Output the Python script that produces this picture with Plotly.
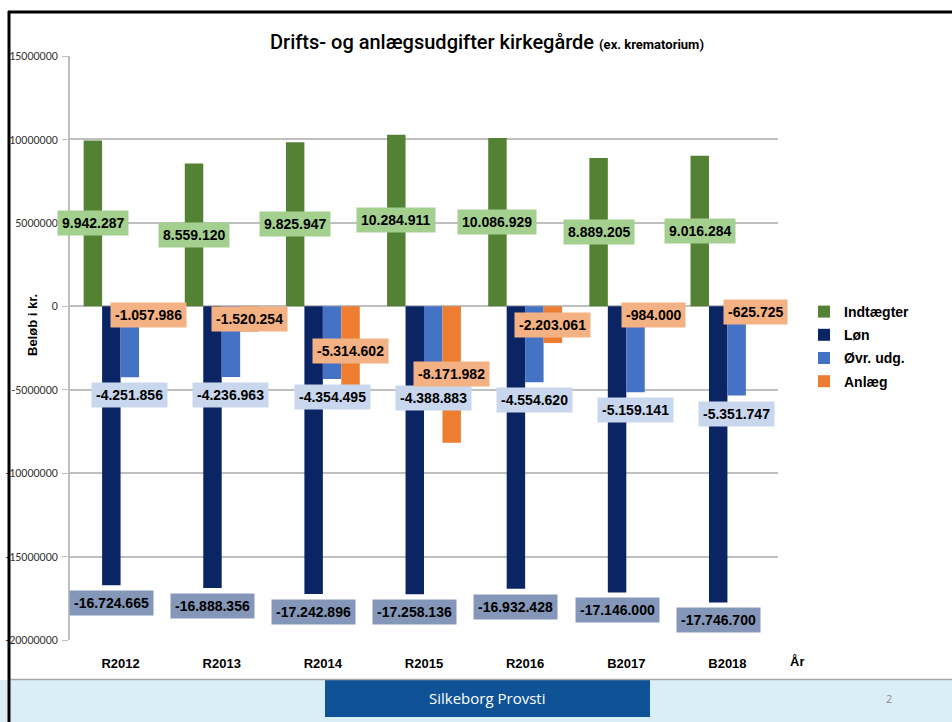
import plotly.graph_objects as go

# data
years = ['R2012', 'R2013', 'R2014', 'R2015', 'R2016', 'B2017', 'B2018']
indtaegter = [9942287, 8559120, 9825947, 10284911, 10086929, 8889205, 9016284]
loen = [-16724665, -16888356, -17242896, -17258136, -16932428, -17146000, -17746700]
ovr_udg = [-4251856, -4236963, -4354495, -4388883, -4554620, -5159141, -5351747]
anlaeg = [-1057986, -1520254, -5314602, -8171982, -2203061, -984000, -625725]

y_ticks = [15000000, 10000000, 5000000, 0, -5000000, -10000000, -15000000, -20000000]
y_ticktext = ['15000000', '10000000', '5000000', '0', '-5000000', '-10000000', '-15000000', '-20000000']

W, H = 952, 722
L, R, T, B = 70, 778, 56, 640   # plot area in pixels


def px_x(p):
    return (p - L) / (R - L)


def px_y(p):
    return (B - p) / (B - T)


def dk(v):
    return f"{v:,}".replace(",", ".")


LABEL_FONT = dict(family='Liberation Sans, Arial, sans-serif', size=14, color='black')
NARROW = 'Liberation Sans Narrow, Carlito, Roboto Condensed, Arial Narrow, sans-serif'

series = [
    ('Indtægter', indtaegter, '#548235', '#a3d08f', 'center'),
    ('Løn', loen, '#0b2463', '#8497b8', 'end'),
    ('Øvr. udg.', ovr_udg, '#4472c4', '#c9d7ee', 'end'),
    ('Anlæg', anlaeg, '#ed7d31', '#f4b183', 'center'),
]

bargap = 0.27
bw = (1 - bargap) / len(series)

fig = go.Figure()
annotations = []
for i, (name, vals, col, lab_col, pos) in enumerate(series):
    fig.add_trace(go.Bar(x=years, y=vals, name=f'<b>{name}</b>', legendgroup=name,
                         marker=dict(color=col, line=dict(width=0))))
    for j, v in enumerate(vals):
        xo = j + (i - 1.5) * bw
        if pos == 'center':
            annotations.append(dict(x=xo, y=v / 2, xref='x', yref='y', text=f'<b>{dk(v)}</b>', showarrow=False,
                                    font=LABEL_FONT, bgcolor=lab_col, borderpad=4))
        else:
            annotations.append(dict(x=xo, y=v, xref='x', yref='y', text=f'<b>{dk(v)}</b>', showarrow=False,
                                    yshift=-18, font=LABEL_FONT, bgcolor=lab_col, borderpad=4))


def note(x, y, text, **kw):
    d = dict(x=px_x(x), y=px_y(y), xref='paper', yref='paper', text=text, showarrow=False,
             xanchor='center', yanchor='middle')
    d.update(kw)
    return d


# axis titles / extra texts
annotations += [
    note(32, 325, '<b>Beløb i kr.</b>', textangle=-90,
         font=dict(family='Liberation Sans, Arial', size=13, color='black')),
    note(797, 661, '<b>År</b>', font=dict(family='Liberation Sans, Arial', size=13, color='black')),
    note(487, 698, 'Silkeborg Provsti',
         font=dict(family='Open Sans, Noto Sans, sans-serif', size=15, color='white')),
    note(889, 698, '2', font=dict(family='Open Sans, Noto Sans, sans-serif', size=11, color='#8c8c8c')),
]

shapes = [
    # footer
    dict(type='rect', xref='paper', yref='paper', x0=px_x(0), x1=px_x(W), y0=px_y(680), y1=px_y(H),
         fillcolor='#daeef8', line=dict(width=0), layer='below'),
    dict(type='line', xref='paper', yref='paper', x0=px_x(10), x1=px_x(W), y0=px_y(679.5), y1=px_y(679.5),
         line=dict(color='#a6a6a6', width=1.5)),
    dict(type='rect', xref='paper', yref='paper', x0=px_x(325), x1=px_x(650), y0=px_y(680), y1=px_y(717),
         fillcolor='#0f5396', line=dict(width=0), layer='below'),
    # slide frame
    dict(type='line', xref='paper', yref='paper', x0=px_x(8), x1=px_x(W), y0=px_y(12), y1=px_y(12),
         line=dict(color='black', width=3)),
    dict(type='line', xref='paper', yref='paper', x0=px_x(9), x1=px_x(9), y0=px_y(11), y1=px_y(H),
         line=dict(color='black', width=3)),
]

fig.update_layout(
    width=W, height=H, autosize=False,
    margin=dict(l=L, r=W - R, t=T, b=H - B, pad=0, autoexpand=False),
    paper_bgcolor='white', plot_bgcolor='white',
    barmode='group', bargap=bargap, bargroupgap=0,
    title=dict(text="Drifts- og anlægsudgifter kirkegårde <span style='font-size:13px;font-weight:bold'>(ex. krematorium)</span>",
               x=487 / W, xanchor='center', y=1 - 42 / H, yanchor='middle',
               font=dict(family='Roboto, Liberation Sans, sans-serif', size=20, color='black', weight=500)),
    legend=dict(xref='container', yref='container', x=804 / W, y=1 - 296 / H, xanchor='left', yanchor='top',
                font=dict(family='Liberation Sans, Arial', size=14, color='black'),
                bgcolor='rgba(0,0,0,0)', itemwidth=30, traceorder='grouped', tracegroupgap=2),
    annotations=annotations,
    shapes=shapes,
)
fig.update_xaxes(automargin=False, range=[-0.5, len(years) - 0.5], showgrid=False, showline=False,
                 ticks='', ticklabelstandoff=14,
                 tickfont=dict(family='Liberation Sans, Arial', size=13, color='black'),
                 tickprefix='<b>', ticksuffix='</b>')
fig.update_yaxes(automargin=False, range=[-20000000, 15000000], tickvals=y_ticks, ticktext=y_ticktext,
                 showgrid=True, gridcolor='#bfbfbf', gridwidth=1.5,
                 zeroline=True, zerolinecolor='#bfbfbf', zerolinewidth=1.5,
                 showline=True, linecolor='#bfbfbf', linewidth=1.5,
                 ticks='outside', ticklen=6, tickcolor='#bfbfbf', ticklabelstandoff=2,
                 tickfont=dict(family=NARROW, size=12, color='#333333'))

fig.write_html("out.html", config={'displayModeBar': False},
               post_script="document.body.style.margin='0';")
